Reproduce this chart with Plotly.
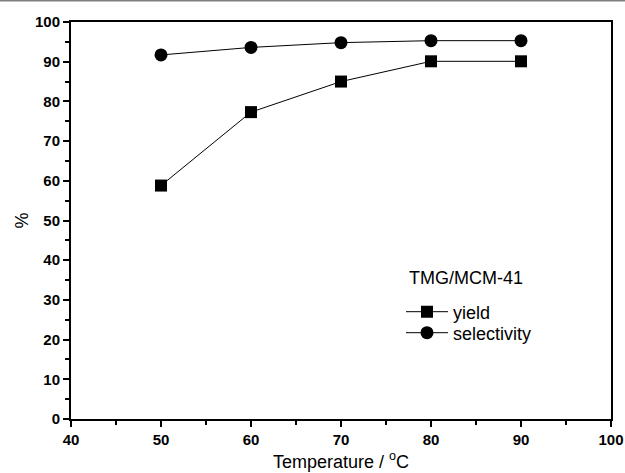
import plotly.graph_objects as go

temps = [50, 60, 70, 80, 90]
yield_vals = [58.8, 77.3, 85.0, 90.1, 90.1]
selectivity_vals = [91.7, 93.6, 94.8, 95.3, 95.3]
x_ticks = [40, 50, 60, 70, 80, 90, 100]
y_ticks = [0, 10, 20, 30, 40, 50, 60, 70, 80, 90, 100]

W, H = 625, 473
ml, mr, mt, mb = 71, 14, 22, 54
FONT = "Liberation Sans, Arial"

fig = go.Figure()
fig.add_trace(go.Scatter(x=temps, y=yield_vals, mode="lines+markers", name="yield",
                         line=dict(color="black", width=1),
                         marker=dict(symbol="square", size=12, color="black"), legend="legend"))
fig.add_trace(go.Scatter(x=temps, y=selectivity_vals, mode="lines+markers", name="selectivity",
                         line=dict(color="black", width=1),
                         marker=dict(symbol="circle", size=13, color="black"), legend="legend2"))

tickfont = dict(family=FONT, size=15, color="black", weight="bold")
axis_common = dict(showline=True, linewidth=2, linecolor="black", mirror=True,
                   ticks="outside", ticklen=6, tickwidth=2, tickcolor="black",
                   showgrid=False, zeroline=False, tickfont=tickfont, automargin=False,
                   minor=dict(ticks="outside", ticklen=4, tickwidth=2, tickcolor="black", dtick=5, showgrid=False))

fig.update_xaxes(range=[40, 100], tickvals=x_ticks, ticktext=[str(v) for v in x_ticks],
                 title=dict(text="Temperature / <sup>o</sup>C", font=dict(family=FONT, size=18, color="black"), standoff=8),
                 **axis_common)
fig.update_yaxes(range=[0, 100], tickvals=y_ticks, ticktext=[str(v) for v in y_ticks],
                 title=dict(text="%", font=dict(family=FONT, size=18, color="black"), standoff=2),
                 **axis_common)

ph = H - mt - mb
pw = W - ml - mr
fig.add_annotation(x=(407 - ml) / pw, y=(419 - 278) / ph, xref="paper", yref="paper",
                   text="TMG/MCM-41", showarrow=False, xanchor="left", yanchor="middle",
                   font=dict(family=FONT, size=18, color="black"))

fig.add_shape(type="line", xref="paper", yref="paper", x0=-ml / pw, x1=1 + mr / pw,
              y0=1 + (mt - 0.5) / ph, y1=1 + (mt - 0.5) / ph, line=dict(color="#808080", width=2))

leg_common = dict(xanchor="left", yanchor="middle", bgcolor="rgba(0,0,0,0)",
                  font=dict(family=FONT, size=18, color="black"), itemwidth=42)
fig.update_layout(
    width=W, height=H, margin=dict(l=ml, r=mr, t=mt, b=mb, autoexpand=False),
    paper_bgcolor="white", plot_bgcolor="white",
    font=dict(family=FONT, color="black"),
    legend=dict(x=(401 - ml) / pw, y=(419 - 312) / ph, **leg_common),
    legend2=dict(x=(401 - ml) / pw, y=(419 - 333) / ph, **leg_common),
    showlegend=True,
)

fig.write_html("out.html")
